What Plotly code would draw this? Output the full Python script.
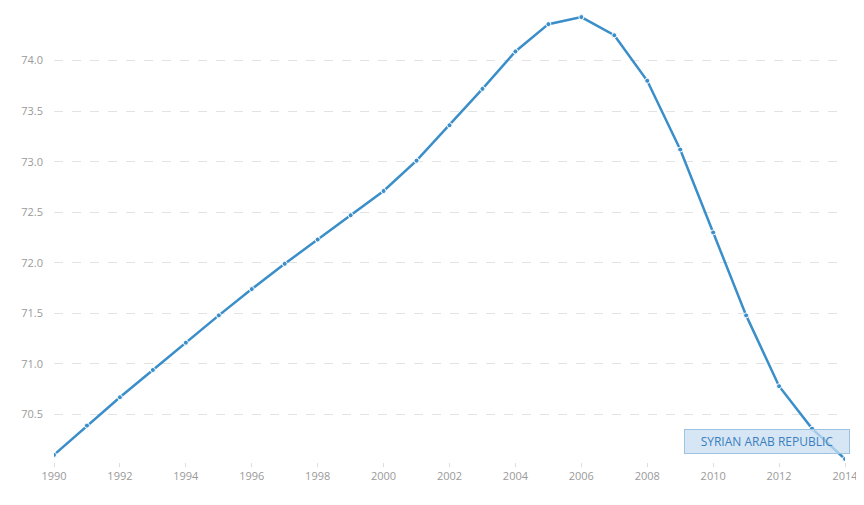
import plotly.graph_objects as go

years = list(range(1990, 2015))
life_expectancy = [70.10, 70.39, 70.67, 70.94, 71.21, 71.48, 71.74, 71.99, 72.23, 72.47,
                   72.71, 73.01, 73.36, 73.72, 74.09, 74.36, 74.43, 74.25, 73.80, 73.12,
                   72.30, 71.48, 70.78, 70.36, 70.06]
series_name = "SYRIAN ARAB REPUBLIC"
x_ticks = list(range(1990, 2015, 2))
y_ticks = [70.5, 71.0, 71.5, 72.0, 72.5, 73.0, 73.5, 74.0]

blue = "#3a8ec9"

fig = go.Figure()
fig.add_trace(go.Scatter(
    x=years, y=life_expectancy, mode="lines+markers", name=series_name,
    line=dict(color=blue, width=2.5),
    marker=dict(size=5, color=blue, line=dict(color="white", width=1)),
    hoverinfo="x+y",
))

fig.add_annotation(
    x=0.9008, y=0.0454, xref="paper", yref="paper",
    text=series_name, showarrow=False,
    font=dict(family="Open Sans", size=12, color="#3b7fc0"),
    bgcolor="rgba(200,222,240,0.75)", bordercolor="#9cc4e2", borderwidth=1,
    borderpad=3, width=158, xanchor="center", yanchor="middle",
)

# the page body has an 8px margin, so the figure is 8px smaller and margins shifted
fig.update_layout(
    width=856, height=497,
    margin=dict(l=46, r=19, t=2, b=43),
    paper_bgcolor="white", plot_bgcolor="white",
    showlegend=False,
    font=dict(family="Open Sans", size=11, color="#9a9a9a"),
    xaxis=dict(
        range=[1990, 2014], tickvals=x_ticks, ticktext=[str(t) for t in x_ticks],
        showgrid=False, zeroline=False, showline=False,
        ticks="outside", ticklen=4, tickcolor="#dddddd", tickwidth=1,
        tickfont=dict(size=11, color="#9a9a9a"),
    ),
    yaxis=dict(
        range=[70.03, 74.5], tickvals=y_ticks, ticktext=[f"{v:.1f}" for v in y_ticks],
        showgrid=True, gridcolor="#e3e3e3", griddash="dash", gridwidth=1,
        zeroline=False, showline=False, ticks="", ticklabelstandoff=10,
        tickfont=dict(size=11, color="#9a9a9a"),
        automargin=False,
    ),
)
fig.update_xaxes(automargin=False)

fig.write_html("out.html")
